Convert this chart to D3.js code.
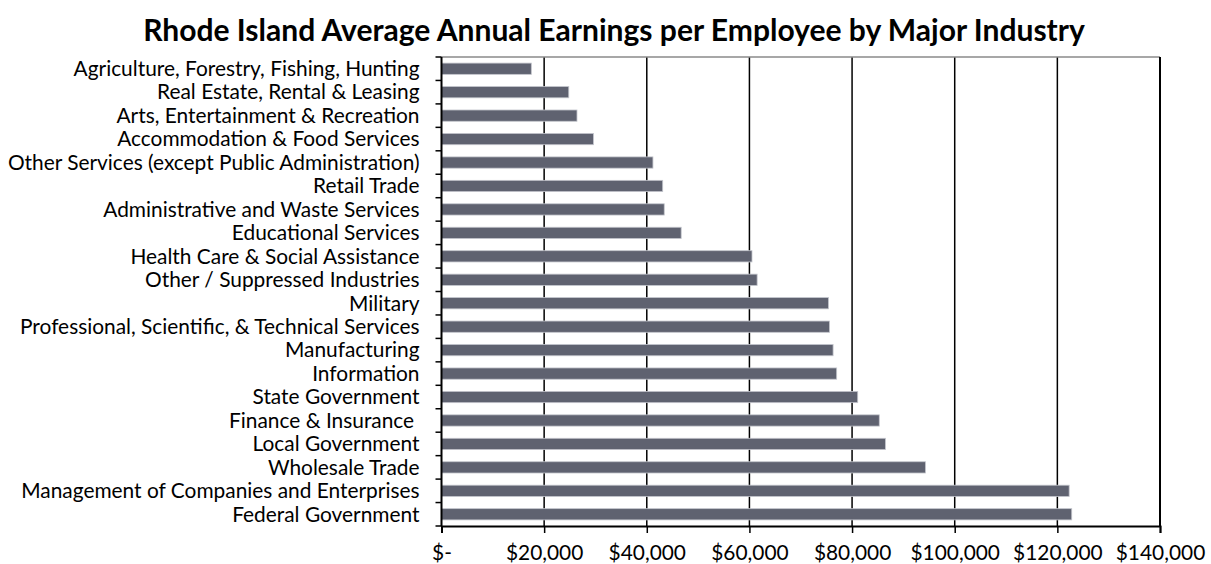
<!DOCTYPE html>
<html>
<head>
<meta charset="utf-8">
<script src="https://cdn.jsdelivr.net/npm/d3@7"></script>
<style>
  html, body { margin: 0; padding: 0; background: #fff; }
  svg { display: block; }
  text { font-family: Lato, "Open Sans", sans-serif; fill: #000; white-space: pre; }
</style>
</head>
<body>
<svg id="chart" width="1211" height="564"></svg>
<script>
// Industries, listed top to bottom
const industries = [
  "Agriculture, Forestry, Fishing, Hunting",
  "Real Estate, Rental & Leasing",
  "Arts, Entertainment & Recreation",
  "Accommodation & Food Services",
  "Other Services (except Public Administration)",
  "Retail Trade",
  "Administrative and Waste Services",
  "Educational Services",
  "Health Care & Social Assistance",
  "Other / Suppressed Industries",
  "Military",
  "Professional, Scientific, & Technical Services",
  "Manufacturing",
  "Information",
  "State Government",
  "Finance & Insurance ",
  "Local Government",
  "Wholesale Trade",
  "Management of Companies and Enterprises",
  "Federal Government"
];

// Average annual earnings per employee (USD)
const earnings = [
  17500, 24800, 26400, 29600, 41200, 43100, 43400, 46700, 60500, 61500,
  75400, 75600, 76300, 77000, 81100, 85300, 86500, 94300, 122300, 122800
];

const xTicks = [0, 20000, 40000, 60000, 80000, 100000, 120000, 140000];
const xTickLabels = ["$-", "$20,000", "$40,000", "$60,000", "$80,000", "$100,000", "$120,000", "$140,000"];
const titleText = "Rhode Island Average Annual Earnings per Employee by Major Industry";

const svg = d3.select("#chart");
const plot = { left: 441.5, right: 1160, top: 57, bottom: 526 };

const x = d3.scaleLinear().domain([0, 140000]).range([plot.left, plot.right]);
const y = d3.scaleBand().domain(industries).range([plot.top, plot.bottom]).paddingInner(0.52).paddingOuter(0.26);
const band = d3.scaleBand().domain(industries).range([plot.top, plot.bottom]);

// Fit a font size so a text spans a given width
function fitSize(str, weight, target) {
  const t = svg.append("text").attr("font-size", 100).attr("font-weight", weight).text(str);
  const w = t.node().getComputedTextLength();
  t.remove();
  return 100 * target / w;
}
const labelSize = fitSize("Other Services (except Public Administration)", "normal", 412);
const titleSize = fitSize(titleText, "bold", 942);

// Title
svg.append("text")
  .attr("x", (143 + 1085) / 2)
  .attr("y", 41)
  .attr("text-anchor", "middle")
  .attr("font-weight", "bold")
  .attr("font-size", titleSize)
  .text(titleText);

// Vertical gridlines
svg.append("g")
  .selectAll("line")
  .data(xTicks.filter(v => v > 0 && v < 140000))
  .join("line")
  .attr("x1", d => x(d)).attr("x2", d => x(d))
  .attr("y1", plot.top).attr("y2", plot.bottom)
  .attr("stroke", "#000").attr("stroke-width", 1.5);

// Plot frame: top and right edges
svg.append("line")
  .attr("x1", plot.left).attr("x2", plot.right)
  .attr("y1", plot.top).attr("y2", plot.top)
  .attr("stroke", "#8a8a8a").attr("stroke-width", 1.3);
svg.append("line")
  .attr("x1", plot.right).attr("x2", plot.right)
  .attr("y1", plot.top).attr("y2", plot.bottom)
  .attr("stroke", "#000").attr("stroke-width", 2);

// Bars
svg.append("g")
  .selectAll("rect")
  .data(industries)
  .join("rect")
  .attr("x", x(0))
  .attr("y", d => y(d))
  .attr("width", (d, i) => x(earnings[i]) - x(0))
  .attr("height", y.bandwidth())
  .attr("fill", "#5f6270")
  .attr("stroke", "#c3c5cc")
  .attr("stroke-width", 0.8);

// Category axis: ticks sit on band boundaries
const yAxisG = svg.append("g");
yAxisG.append("line")
  .attr("x1", plot.left).attr("x2", plot.left)
  .attr("y1", plot.top).attr("y2", plot.bottom)
  .attr("stroke", "#000").attr("stroke-width", 2);
const boundaries = industries.map(d => band(d)).concat([plot.bottom]);
yAxisG.selectAll("line.tick")
  .data(boundaries)
  .join("line")
  .attr("class", "tick")
  .attr("x1", plot.left - 6).attr("x2", plot.left)
  .attr("y1", d => d).attr("y2", d => d)
  .attr("stroke", "#000").attr("stroke-width", 1.5);
yAxisG.selectAll("text")
  .data(industries)
  .join("text")
  .attr("x", 419.5)
  .attr("y", d => band(d) + band.bandwidth() / 2)
  .attr("dy", "0.35em")
  .attr("text-anchor", "end")
  .attr("font-size", labelSize)
  .text(d => d);

// Value axis
const xAxis = d3.axisBottom(x)
  .tickValues(xTicks)
  .tickFormat((d, i) => xTickLabels[i])
  .tickSize(7)
  .tickPadding(12);
const xAxisG = svg.append("g")
  .attr("transform", `translate(0,${plot.bottom})`)
  .call(xAxis);
xAxisG.select(".domain").attr("stroke", "#000").attr("stroke-width", 2);
xAxisG.selectAll(".tick line").attr("stroke", "#000").attr("stroke-width", 1.5);
xAxisG.selectAll(".tick text")
  .attr("font-family", "Lato, 'Open Sans', sans-serif")
  .attr("font-size", labelSize)
  .attr("fill", "#000");
</script>
</body>
</html>
